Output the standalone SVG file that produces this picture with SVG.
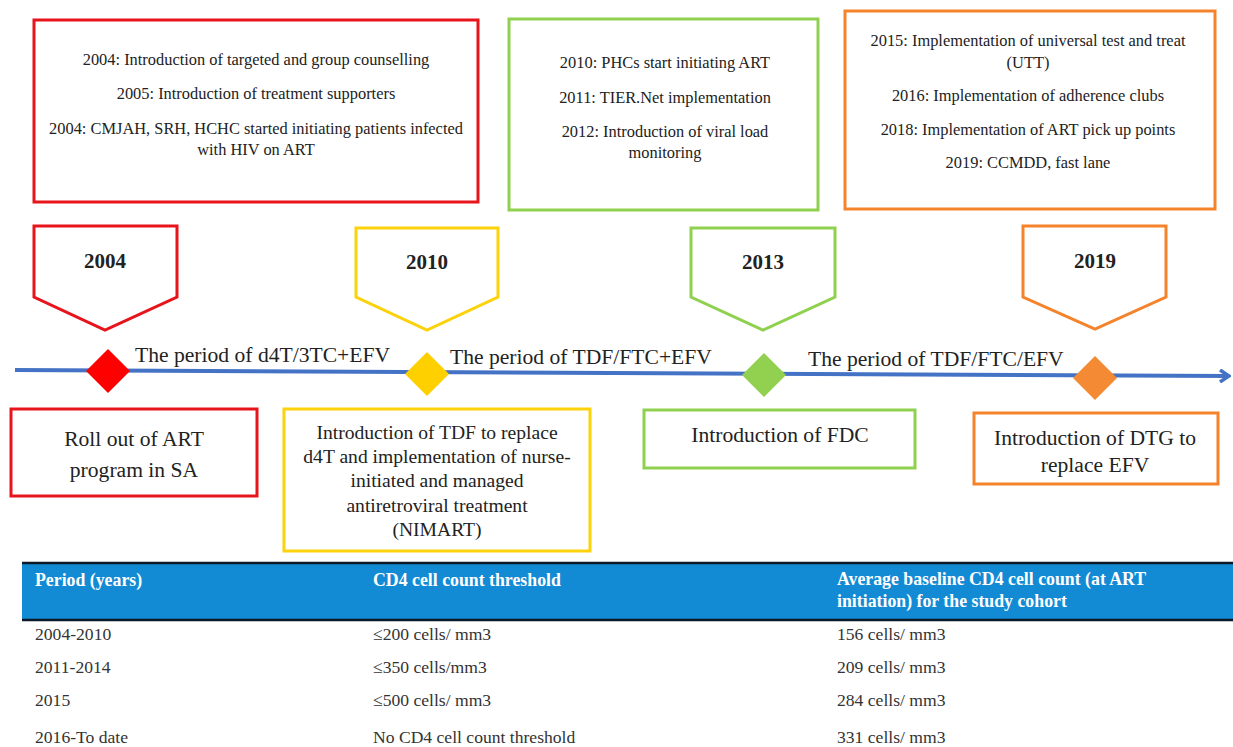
<svg xmlns="http://www.w3.org/2000/svg" width="1233" height="747" viewBox="0 0 1233 747" font-family="'Liberation Serif','Times New Roman',serif">
<style>
text{font-family:"Liberation Serif","Times New Roman",serif;fill:#222}
.sm{font-size:16.4px}
.md{font-size:19.6px}
.lg{font-size:21.6px}
.yr{font-size:21px;font-weight:bold}
.th{font-size:17.8px;font-weight:bold;fill:#fff}
.td{font-size:17.6px;fill:#333}
.c{text-anchor:middle}
.box{fill:#fff;stroke-width:3}
.red{stroke:#e8141c}.yel{stroke:#fbd20b}.grn{stroke:#8fd14f}.org{stroke:#f4832b}
</style>
<defs>
<marker id="arr" markerWidth="12" markerHeight="14" refX="10" refY="7" orient="auto" markerUnits="userSpaceOnUse">
<path d="M1,1 L10,7 L1,13" fill="none" stroke="#4472c4" stroke-width="3.5"/>
</marker>
</defs>
<rect width="1233" height="747" fill="#fff"/>

<g id="connectors">
<line x1="15" y1="370" x2="1229" y2="376" stroke="#4472c4" stroke-width="4" marker-end="url(#arr)"/>
</g>

<g id="top-2004">
<rect class="box red" x="34" y="20" width="444" height="182"/>
<text class="sm c" x="256" y="65">2004: Introduction of targeted and group counselling</text>
<text class="sm c" x="256" y="99">2005: Introduction of treatment supporters</text>
<text class="sm c" x="256" y="134">2004: CMJAH, SRH, HCHC started initiating patients infected</text>
<text class="sm c" x="256" y="155">with HIV on ART</text>
</g>
<g id="top-2010">
<rect class="box grn" x="509" y="19" width="309" height="191"/>
<text class="sm c" x="665" y="68">2010: PHCs start initiating ART</text>
<text class="sm c" x="665" y="103">2011: TIER.Net implementation</text>
<text class="sm c" x="665" y="137">2012: Introduction of viral load</text>
<text class="sm c" x="665" y="158">monitoring</text>
</g>
<g id="top-2015">
<rect class="box org" x="845" y="11" width="370" height="198"/>
<text class="sm c" x="1028" y="46">2015: Implementation of universal test and treat</text>
<text class="sm c" x="1028" y="68">(UTT)</text>
<text class="sm c" x="1028" y="101">2016: Implementation of adherence clubs</text>
<text class="sm c" x="1028" y="135">2018: Implementation of ART pick up points</text>
<text class="sm c" x="1028" y="168">2019: CCMDD, fast lane</text>
</g>

<g id="p2004">
<polygon class="box red" points="34,226 177,226 177,297 105,330 34,297"/>
<text class="yr c" x="105" y="268">2004</text>
</g>
<g id="p2010">
<polygon class="box yel" points="356,228 498,228 498,297 427,330 356,297"/>
<text class="yr c" x="427" y="269">2010</text>
</g>
<g id="p2013">
<polygon class="box grn" points="691,228 835,228 835,297 763,330 691,297"/>
<text class="yr c" x="763" y="269">2013</text>
</g>
<g id="p2019">
<polygon class="box org" points="1023,226 1166,226 1166,297 1095,329 1023,297"/>
<text class="yr c" x="1095" y="268">2019</text>
</g>

<g id="d2004"><polygon points="108,349 130,371 108,393 86,371" fill="#ff0000"/></g>
<g id="d2010"><polygon points="427,352 449,374 427,396 405,374" fill="#ffd000"/></g>
<g id="d2013"><polygon points="764,353 786,375 764,397 742,375" fill="#92d050"/></g>
<g id="d2019"><polygon points="1095,356 1117,378 1095,400 1073,378" fill="#f58a35"/></g>

<g id="period-labels">
<text class="lg" x="135" y="362">The period of d4T/3TC+EFV</text>
<text class="lg" x="450" y="364">The period of TDF/FTC+EFV</text>
<text class="lg" x="808" y="366">The period of TDF/FTC/EFV</text>
</g>

<g id="b2004">
<rect class="box red" x="11" y="409" width="246" height="87"/>
<text class="lg c" x="134" y="446">Roll out of ART</text>
<text class="lg c" x="134" y="477">program in SA</text>
</g>
<g id="b2010">
<rect class="box yel" x="284" y="409" width="306" height="142"/>
<text class="md c" x="437" y="439">Introduction of TDF to replace</text>
<text class="md c" x="437" y="463">d4T and implementation of nurse-</text>
<text class="md c" x="437" y="487">initiated and managed</text>
<text class="md c" x="437" y="512">antiretroviral treatment</text>
<text class="md c" x="437" y="536">(NIMART)</text>
</g>
<g id="b2013">
<rect class="box grn" x="644" y="410" width="271" height="58"/>
<text class="lg c" x="780" y="442">Introduction of FDC</text>
</g>
<g id="b2019">
<rect class="box org" x="974" y="413" width="244" height="71"/>
<text class="lg c" x="1095" y="445">Introduction of DTG to</text>
<text class="lg c" x="1095" y="472">replace EFV</text>
</g>

<g id="table">
<rect x="22" y="563" width="1211" height="57" fill="#138ad4"/>
<line x1="22" y1="563" x2="1233" y2="563" stroke="#0b1a26" stroke-width="2.5"/>
<line x1="22" y1="620" x2="1233" y2="620" stroke="#0b1a26" stroke-width="2.5"/>
<text class="th" x="35" y="586">Period (years)</text>
<text class="th" x="373" y="586">CD4 cell count threshold</text>
<text class="th" x="837" y="585">Average baseline CD4 cell count (at ART</text>
<text class="th" x="837" y="607">initiation) for the study cohort</text>
<text class="td" x="35" y="640">2004-2010</text>
<text class="td" x="373" y="640">≤200 cells/ mm3</text>
<text class="td" x="837" y="640">156 cells/ mm3</text>
<text class="td" x="35" y="673">2011-2014</text>
<text class="td" x="373" y="673">≤350 cells/mm3</text>
<text class="td" x="837" y="673">209 cells/ mm3</text>
<text class="td" x="35" y="706">2015</text>
<text class="td" x="373" y="706">≤500 cells/ mm3</text>
<text class="td" x="837" y="706">284 cells/ mm3</text>
<text class="td" x="35" y="743">2016-To date</text>
<text class="td" x="373" y="743">No CD4 cell count threshold</text>
<text class="td" x="837" y="743">331 cells/ mm3</text>
</g>
</svg>
